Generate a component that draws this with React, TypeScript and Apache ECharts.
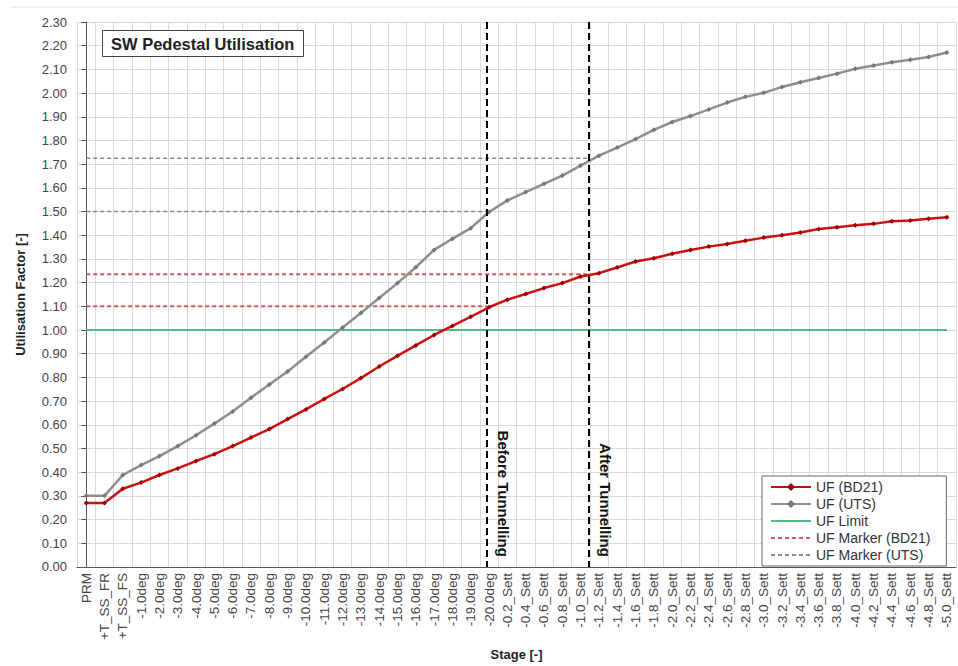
import { useEffect, useRef } from 'react';
import * as echarts from 'echarts';

// Construction / settlement stages along the horizontal axis
const stages = [
  'PRM', '+T_SS_FR', '+T_SS_FS',
  '-1.0deg', '-2.0deg', '-3.0deg', '-4.0deg', '-5.0deg',
  '-6.0deg', '-7.0deg', '-8.0deg', '-9.0deg', '-10.0deg',
  '-11.0deg', '-12.0deg', '-13.0deg', '-14.0deg', '-15.0deg',
  '-16.0deg', '-17.0deg', '-18.0deg', '-19.0deg', '-20.0deg',
  '-0.2_Sett', '-0.4_Sett', '-0.6_Sett', '-0.8_Sett', '-1.0_Sett',
  '-1.2_Sett', '-1.4_Sett', '-1.6_Sett', '-1.8_Sett', '-2.0_Sett',
  '-2.2_Sett', '-2.4_Sett', '-2.6_Sett', '-2.8_Sett', '-3.0_Sett',
  '-3.2_Sett', '-3.4_Sett', '-3.6_Sett', '-3.8_Sett', '-4.0_Sett',
  '-4.2_Sett', '-4.4_Sett', '-4.6_Sett', '-4.8_Sett', '-5.0_Sett',
];

// Utilisation factor per stage, BD21 assessment
const ufBD21 = [
  0.27, 0.27, 0.33, 0.356, 0.388, 0.416, 0.447, 0.476, 0.51, 0.546,
  0.582, 0.624, 0.665, 0.709, 0.751, 0.797, 0.846, 0.891, 0.935, 0.979,
  1.017, 1.056, 1.096, 1.128, 1.152, 1.177, 1.198, 1.226, 1.24, 1.264,
  1.289, 1.303, 1.322, 1.338, 1.352, 1.363, 1.377, 1.39, 1.4, 1.412,
  1.426, 1.434, 1.442, 1.448, 1.459, 1.462, 1.47, 1.476,
];

// Utilisation factor per stage, UTS assessment
const ufUTS = [
  0.3, 0.3, 0.388, 0.43, 0.468, 0.51, 0.556, 0.605, 0.656, 0.714,
  0.77, 0.825, 0.887, 0.947, 1.01, 1.072, 1.135, 1.198, 1.265, 1.338,
  1.385, 1.43, 1.498, 1.547, 1.582, 1.617, 1.652, 1.694, 1.736, 1.77,
  1.806, 1.845, 1.878, 1.903, 1.931, 1.96, 1.984, 2.001, 2.026, 2.046,
  2.064, 2.082, 2.103, 2.116, 2.13, 2.141, 2.152, 2.171,
];

const ufLimit = 1.0;

// Tunnelling events, as fractional stage positions, with their labels
const tunnelStages = [21.9, 27.45];
const tunnelLabels = ['Before Tunnelling', 'After Tunnelling'];

const markerBD21 = [1.1, 1.235];
const markerUTS = [1.5, 1.725];

const yMin = 0;
const yMax = 2.3;
const yStep = 0.1;

const FONT = '"Liberation Sans", Arial, sans-serif';

const legendNames = ['UF (BD21)', 'UF (UTS)', 'UF Limit', 'UF Marker (BD21)', 'UF Marker (UTS)'];
// legend entries drawn as a plain line, without a point symbol
const plainLegend = new Set(['UF Limit', 'UF Marker (BD21)', 'UF Marker (UTS)']);

function markerSeries(name: string, values: number[], color: string, width: number) {
  return values.map((v, i) => ({
    name,
    type: 'line',
    xAxisIndex: 1,
    yAxisIndex: 0,
    data: [[0, v], [tunnelStages[i], v]],
    symbol: 'none',
    silent: true,
    lineStyle: { color, width, type: [4, 3] },
    itemStyle: { color },
    z: 3,
  }));
}

export default function App() {
  const ref = useRef<HTMLDivElement>(null);

  useEffect(() => {
    if (!ref.current) return;
    const chart = echarts.init(ref.current, null, { renderer: 'svg' });

    const option: any = {
      animation: false,
      backgroundColor: '#ffffff',
      textStyle: { fontFamily: FONT },
      title: {
        text: 'SW Pedestal Utilisation',
        left: 102,
        top: 30,
        padding: [5, 9],
        borderColor: '#444',
        borderWidth: 1,
        backgroundColor: '#fff',
        textStyle: { fontFamily: FONT, fontSize: 16.5, fontWeight: 'bold', color: '#222' },
      },
      legend: {
        data: legendNames.map((name) =>
          plainLegend.has(name) ? { name, itemStyle: { opacity: 0 } } : { name }
        ),
        orient: 'vertical',
        left: 762,
        top: 476,
        padding: [3, 16, 3, 8],
        itemGap: 1,
        itemWidth: 40,
        itemHeight: 10,
        backgroundColor: '#fff',
        borderColor: '#666',
        borderWidth: 1,
        borderRadius: 0,
        selectedMode: false,
        textStyle: { fontFamily: FONT, fontSize: 14, color: '#333', lineHeight: 16 },
      },
      grid: { left: 77, right: 2, top: 22, bottom: 95, containLabel: false },
      xAxis: [
        {
          type: 'category',
          data: stages,
          boundaryGap: true,
          name: 'Stage [-]',
          nameLocation: 'middle',
          nameGap: 81,
          nameTextStyle: { fontFamily: FONT, fontSize: 13, fontWeight: 'bold', color: '#222' },
          axisLine: { lineStyle: { color: '#555', width: 1 } },
          axisTick: { show: false },
          axisLabel: {
            interval: 0,
            rotate: 90,
            margin: 6,
            fontFamily: FONT,
            fontSize: 13.5,
            color: '#444',
          },
          splitLine: { show: true, interval: 0, lineStyle: { color: '#dadada', width: 1 } },
        },
        {
          type: 'value',
          show: false,
          min: -0.5,
          max: stages.length - 0.5,
          splitLine: { show: false },
        },
      ],
      yAxis: {
        type: 'value',
        min: yMin,
        max: yMax,
        interval: yStep,
        name: 'Utilisation Factor [-]',
        nameLocation: 'middle',
        nameGap: 50,
        nameTextStyle: { fontFamily: FONT, fontSize: 13, fontWeight: 'bold', color: '#222' },
        axisLine: { show: true, lineStyle: { color: '#555', width: 1 } },
        axisTick: { show: true, length: 5, lineStyle: { color: '#555' } },
        axisLabel: {
          margin: 10,
          fontFamily: FONT,
          fontSize: 13,
          color: '#444',
          formatter: (v: number) => v.toFixed(2),
        },
        splitLine: { show: true, lineStyle: { color: '#dadada', width: 1 } },
      },
      series: [
        {
          name: 'UF (BD21)',
          type: 'line',
          data: ufBD21,
          symbol: 'diamond',
          symbolSize: 5,
          lineStyle: { color: '#cc1010', width: 2.5 },
          itemStyle: { color: '#9a0000' },
          z: 5,
        },
        {
          name: 'UF (UTS)',
          type: 'line',
          data: ufUTS,
          symbol: 'diamond',
          symbolSize: 5,
          lineStyle: { color: '#8e8e8e', width: 2.5 },
          itemStyle: { color: '#777' },
          z: 4,
        },
        {
          name: 'UF Limit',
          type: 'line',
          data: stages.map(() => ufLimit),
          symbol: 'none',
          lineStyle: { color: '#56b97f', width: 2 },
          itemStyle: { color: '#56b97f' },
          z: 3,
        },
        ...markerSeries('UF Marker (BD21)', markerBD21, '#d45a5a', 2),
        ...markerSeries('UF Marker (UTS)', markerUTS, '#8a8a8a', 1.5),
        {
          name: 'Tunnelling',
          type: 'line',
          xAxisIndex: 1,
          yAxisIndex: 0,
          data: [],
          silent: true,
          z: 6,
          markLine: {
            silent: true,
            symbol: ['none', 'none'],
            lineStyle: { color: '#000', width: 2, type: [7, 4] },
            label: {
              show: true,
              position: 'insideEndTop',
              distance: [10, 9],
              formatter: (p: any) => p.name,
              fontFamily: FONT,
              fontSize: 15,
              fontWeight: 'bold',
              color: '#111',
            },
            data: tunnelStages.map((x, i) => [
              { name: tunnelLabels[i], coord: [x, yMax] },
              { coord: [x, yMin] },
            ]),
          },
        },
      ],
      graphic: [
        {
          type: 'line',
          shape: { x1: 10, y1: 7, x2: 958, y2: 7 },
          style: { stroke: '#e4e4e4', lineWidth: 1 },
          silent: true,
        },
      ],
    };

    chart.setOption(option);
    return () => chart.dispose();
  }, []);

  return (
    <div
      ref={ref}
      style={{ position: 'fixed', left: 0, top: 0, width: 958, height: 666 }}
    />
  );
}
